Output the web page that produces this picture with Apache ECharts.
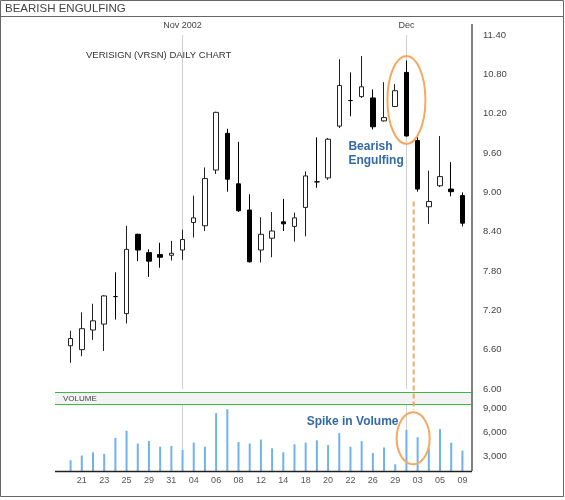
<!DOCTYPE html>
<html>
<head>
<meta charset="utf-8">
<title>Bearish Engulfing</title>
<script src="https://cdn.jsdelivr.net/npm/echarts@6/dist/echarts.min.js"></script>
<style>
  html, body { margin: 0; padding: 0; background: #fff; }
  #chart { width: 565px; height: 500px; }
</style>
</head>
<body>
<div id="chart"></div>
<script>
// VeriSign (VRSN) daily, 18 Oct - 9 Dec 2002
const days = ['10-18', '10-21', '10-22', '10-23', '10-24', '10-25', '10-28', '10-29', '10-30', '10-31',
  '11-01', '11-04', '11-05', '11-06', '11-07', '11-08', '11-11', '11-12', '11-13', '11-14',
  '11-15', '11-18', '11-19', '11-20', '11-21', '11-22', '11-25', '11-26', '11-27', '11-29',
  '12-02', '12-03', '12-04', '12-05', '12-06', '12-09']
const opens = [6.66, 6.60, 6.90, 6.99, 7.41, 7.15, 8.36, 8.08, 8.05, 8.04,
  8.12, 8.54, 8.49, 9.34, 9.90, 9.13, 8.73, 8.12, 8.30, 8.55,
  8.48, 8.77, 9.16, 9.22, 10.01, 10.40, 10.46, 10.44, 10.09, 10.31,
  10.83, 9.79, 8.78, 9.10, 9.05, 8.95]
const closes = [6.77, 6.92, 7.04, 7.42, 7.41, 8.13, 8.12, 7.95, 8.01, 8.07,
  8.28, 8.61, 9.21, 10.22, 9.20, 8.72, 7.94, 8.36, 8.41, 8.52,
  8.61, 9.25, 9.16, 9.81, 10.63, 10.40, 10.61, 10.00, 10.14, 10.55,
  9.86, 9.05, 8.86, 9.24, 9.01, 8.53]
const lows = [6.40, 6.50, 6.75, 6.58, 7.06, 7.00, 7.95, 7.71, 7.85, 7.96,
  7.97, 8.31, 8.41, 9.28, 9.01, 8.70, 7.93, 7.93, 8.01, 8.41,
  8.25, 8.33, 9.07, 9.19, 9.98, 10.16, 10.44, 9.96, 10.08, 10.30,
  9.85, 9.01, 8.52, 9.08, 8.94, 8.48]
const highs = [6.89, 7.17, 7.30, 7.43, 7.78, 8.49, 8.37, 8.13, 8.23, 8.26,
  8.43, 8.95, 9.38, 10.23, 9.97, 9.77, 8.97, 8.62, 8.70, 8.90,
  8.69, 9.32, 9.84, 9.83, 11.03, 10.83, 11.08, 10.57, 10.68, 10.65,
  11.01, 9.86, 9.33, 9.86, 9.46, 9.00]
const volumes = [2500, 3100, 3500, 3300, 5300, 6200, 4600, 4900, 4200, 4300,
  3800, 4700, 4200, 8400, 8900, 4800, 4600, 5100, 4000, 3500,
  4500, 4700, 5000, 4400, 5900, 4200, 4900, 3400, 4100, 2000,
  6300, 5400, 4000, 6400, 4700, 3700]
const volumeTicks = [3000, 6000, 9000]
const monthMarks = [{ name: 'Nov 2002', xAxis: '11-01' }, { name: 'Dec', xAxis: '12-02' }]

const FONT = '"Liberation Sans", Arial, Helvetica, sans-serif'
const LEFT = 65, WIDTH = 403
const PRICE_TOP = 35, PRICE_H = 354
const VOL_TOP = 404, VOL_H = 67
const ORANGE = '#f5a95f'
const BLUE = '#336aa6'

const candles = days.map((d, i) => [opens[i], closes[i], lows[i], highs[i]])

const chart = echarts.init(document.getElementById('chart'))

const hidden = { show: false }
const option = {
  animation: false,
  textStyle: { fontFamily: FONT },
  grid: [
    { left: LEFT, width: WIDTH, top: PRICE_TOP, height: PRICE_H },
    { left: LEFT, width: WIDTH, top: VOL_TOP, height: VOL_H }
  ],
  xAxis: [
    {
      type: 'category', gridIndex: 0, data: days,
      axisLine: hidden, axisTick: hidden, axisLabel: hidden, splitLine: hidden
    },
    {
      type: 'category', gridIndex: 1, data: days,
      axisLine: hidden, axisTick: hidden, splitLine: hidden,
      axisLabel: {
        interval: (i) => i % 2 === 1,
        formatter: (v) => v.slice(3),
        color: '#555', fontSize: 9, margin: 5
      }
    }
  ],
  yAxis: [
    {
      type: 'value', gridIndex: 0, position: 'right',
      min: 6, max: 11.4, interval: 0.6,
      axisLine: hidden, axisTick: hidden, splitLine: hidden,
      axisLabel: { color: '#444', fontSize: 9.5, margin: 15, formatter: (v) => v.toFixed(2) }
    },
    {
      type: 'value', gridIndex: 1, position: 'right',
      min: 1160, max: 9540,
      axisLine: hidden, axisTick: hidden, splitLine: hidden,
      axisLabel: {
        customValues: volumeTicks,
        color: '#444', fontSize: 9.5, margin: 15,
        formatter: (v) => v.toLocaleString('en-US')
      }
    }
  ],
  series: [
    {
      // month separators behind the candles
      type: 'line', xAxisIndex: 0, yAxisIndex: 0, data: [], z: 1,
      markLine: {
        z: 1, silent: true, symbol: ['none', 'none'],
        lineStyle: { color: '#cfcfcf', width: 1, type: 'solid' },
        label: { show: true, position: 'end', formatter: '{b}', color: '#444', fontSize: 9, distance: 5 },
        data: monthMarks
      }
    },
    {
      type: 'line', xAxisIndex: 1, yAxisIndex: 1, data: [], z: 1,
      markLine: {
        z: 1, silent: true, symbol: ['none', 'none'],
        lineStyle: { color: '#cfcfcf', width: 1, type: 'solid' },
        label: hidden,
        data: monthMarks
      }
    },
    {
      type: 'candlestick', xAxisIndex: 0, yAxisIndex: 0,
      data: candles, barWidth: 5, z: 3,
      itemStyle: {
        color: '#fff', color0: '#000',
        borderColor: '#222', borderColor0: '#000', borderColorDoji: '#000',
        borderWidth: 1
      }
    },
    {
      type: 'bar', xAxisIndex: 1, yAxisIndex: 1, z: 3,
      data: volumes, barWidth: 2,
      itemStyle: { color: '#6fb2f2' }
    }
  ]
}
chart.setOption(option)

// annotations anchored on the chart's own scales
const px = (g, x, y) => chart.convertToPixel({ gridIndex: g }, [x, y])
const x30 = px(1, 30, 5000)[0]
const x31 = px(1, 31, 5000)[0]
const between = (f) => x30 + f * (x31 - x30)
const engulf = px(0, 30, 10.41)
const dashTop = px(0, 30, 8.86)[1]
const dashBottom = px(1, 30, 8800)[1]
const spikeY = px(1, 30, 5250)[1]
const bearishAt = px(0, 25, 9.81)
const spikeAt = px(1, 21, 7290)

const right = LEFT + WIDTH + 4
const bandTop = PRICE_TOP + PRICE_H + 3
const bottom = VOL_TOP + VOL_H

chart.setOption({
  graphic: [
    // outer frame and header
    { type: 'rect', z: 20, shape: { x: 0.5, y: 0.5, width: 563, height: 496 }, style: { fill: 'none', stroke: '#666', lineWidth: 1 } },
    { type: 'line', z: 20, shape: { x1: 0, y1: 16.5, x2: 564, y2: 16.5 }, style: { stroke: '#666', lineWidth: 1 } },
    { type: 'text', z: 20, x: 5, y: 8.5, style: { text: 'BEARISH ENGULFING', fill: '#444', fontSize: 11.5, fontFamily: FONT, verticalAlign: 'middle' } },
    { type: 'text', z: 20, x: 86, y: 55, style: { text: 'VERISIGN (VRSN) DAILY CHART', fill: '#333', fontSize: 9.5, fontFamily: FONT, verticalAlign: 'middle' } },
    // volume band
    { type: 'rect', z: 10, shape: { x: 55, y: bandTop, width: right - 55, height: VOL_TOP - bandTop }, style: { fill: '#f3f3f3' } },
    { type: 'line', z: 11, shape: { x1: 55, y1: bandTop + 0.5, x2: right, y2: bandTop + 0.5 }, style: { stroke: '#3cb846', lineWidth: 1 } },
    { type: 'line', z: 11, shape: { x1: 55, y1: VOL_TOP + 0.5, x2: right, y2: VOL_TOP + 0.5 }, style: { stroke: '#3cb846', lineWidth: 1 } },
    { type: 'text', z: 11, x: 63, y: (bandTop + VOL_TOP) / 2 + 0.5, style: { text: 'VOLUME', fill: '#444', fontSize: 8, fontFamily: FONT, verticalAlign: 'middle' } },
    // axis frame
    { type: 'line', z: 12, shape: { x1: right, y1: 24, x2: right, y2: bottom }, style: { stroke: '#808080', lineWidth: 2 } },
    { type: 'line', z: 12, shape: { x1: 55, y1: bottom + 0.5, x2: right, y2: bottom + 0.5 }, style: { stroke: '#222', lineWidth: 1.5 } },
    // annotations
    { type: 'line', z: 13, shape: { x1: between(0.65), y1: dashTop, x2: between(0.65), y2: dashBottom }, style: { stroke: ORANGE, lineWidth: 2, lineDash: [5, 3] } },
    { type: 'ellipse', z: 14, shape: { cx: engulf[0], cy: engulf[1], rx: 19, ry: 44 }, style: { fill: 'none', stroke: ORANGE, lineWidth: 2 } },
    { type: 'ellipse', z: 14, shape: { cx: between(0.6), cy: spikeY, rx: 16.5, ry: 26 }, style: { fill: 'none', stroke: ORANGE, lineWidth: 2 } },
    { type: 'text', z: 14, x: bearishAt[0] - 2, y: bearishAt[1], style: { text: 'Bearish\nEngulfing', fill: BLUE, fontSize: 12, fontWeight: 'bold', fontFamily: FONT, lineHeight: 14 } },
    { type: 'text', z: 14, x: spikeAt[0] + 1, y: spikeAt[1], style: { text: 'Spike in Volume', fill: BLUE, fontSize: 12, fontWeight: 'bold', fontFamily: FONT, verticalAlign: 'middle' } }
  ]
})
</script>
</body>
</html>
